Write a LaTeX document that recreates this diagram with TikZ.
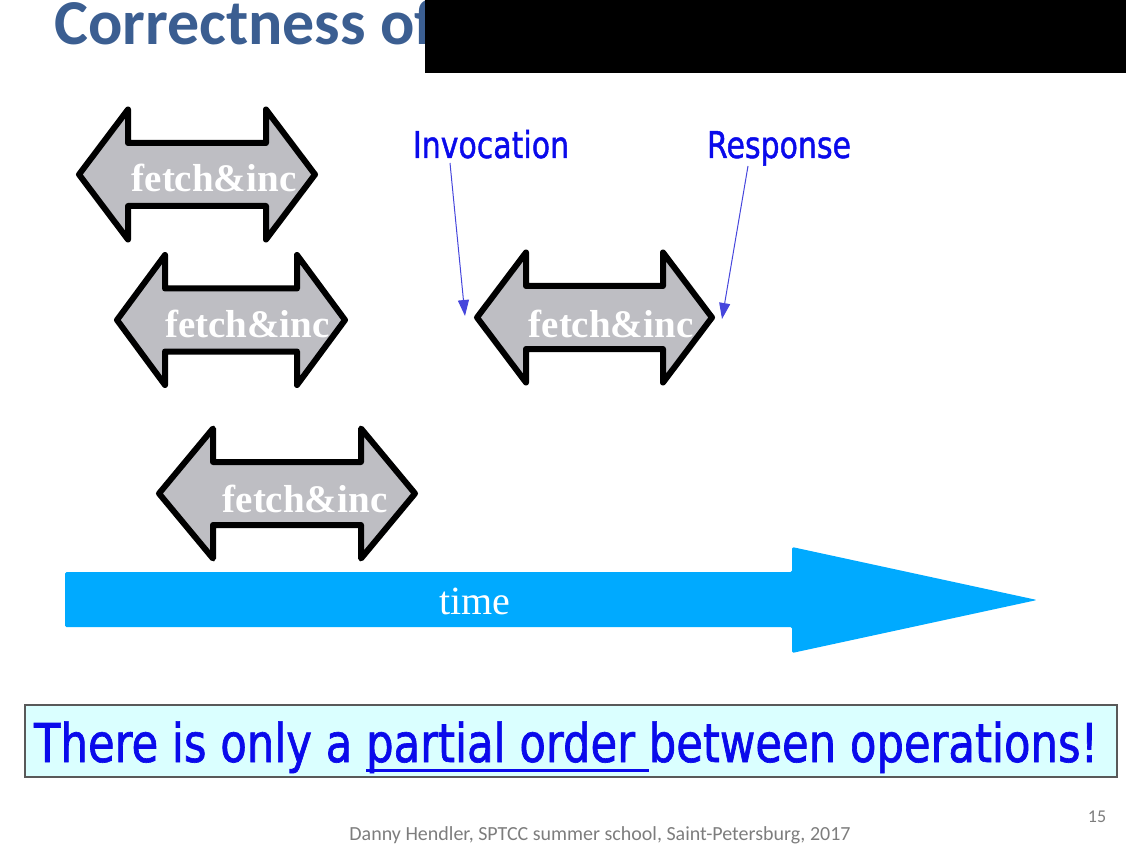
\documentclass[tikz,border=0pt]{standalone}
\usepackage{fontspec}
\setmainfont{Liberation Serif}
\newfontfamily\titlefont{Carlito}
\newfontfamily\handfont[FakeStretch=0.81,FakeBold=1.2]{DejaVu Sans}
\usetikzlibrary{arrows.meta,calc}

\definecolor{titleblue}{RGB}{59,94,145}
\definecolor{opgray}{RGB}{190,190,195}
\definecolor{timeblue}{RGB}{0,170,255}
\definecolor{noteblue}{RGB}{10,10,235}
\definecolor{pointerblue}{RGB}{70,70,220}
\definecolor{notefill}{RGB}{218,255,255}
\definecolor{footgray}{RGB}{125,125,125}

% double-headed operation arrow: left tip x, right tip x, centre y, head length
\newcommand\opArrow[4]{%
  \draw[opline] (#1,#3) -- (#1+#4,#3-65) -- (#1+#4,#3-31.5) -- (#2-#4,#3-31.5)
    -- (#2-#4,#3-65) -- (#2,#3) -- (#2-#4,#3+65) -- (#2-#4,#3+31.5)
    -- (#1+#4,#3+31.5) -- (#1+#4,#3+65) -- cycle;}

% thick underline below a piece of text
\newcommand\thickul[1]{\setbox0\hbox{#1}\rlap{\rule[-10pt]{\wd0}{3pt}}\box0}

\tikzset{
  opline/.style={draw=black, fill=opgray, line width=6pt, line join=round},
  oplabel/.style={anchor=base, inner sep=0pt, text=white,
    font=\fontsize{39}{39}\selectfont\bfseries},
  pointer/.style={draw=pointerblue, line width=1pt,
    -{Triangle[length=16pt,width=11pt]}},
  marker/.style={anchor=base, inner sep=0pt, text=noteblue,
    font=\handfont\fontsize{37}{37}\selectfont},
}

\begin{document}
\begin{tikzpicture}[x=1pt,y=-1pt]
\useasboundingbox (0,0) rectangle (1126,858);

% heading, partly covered by a black bar
\node[anchor=base west, inner sep=0pt, text=titleblue,
  font=\titlefont\bfseries\fontsize{64}{64}\selectfont] (title) at (54,45) {Correctness of};
\fill[black] (425,0) rectangle (1126,73);

% operations
\opArrow{79}{315}{174.5}{49}
\node[oplabel] (op1) at (214,192) {fetch\&inc};
\opArrow{117}{345}{320}{48}
\node[oplabel] (op2) at (247.5,337) {fetch\&inc};
\opArrow{477}{712}{317.5}{49}
\node[oplabel] (op3) at (611,337) {fetch\&inc};
\opArrow{159}{415}{493.5}{54}
\node[oplabel] (op4) at (305,512) {fetch\&inc};

% time axis
\fill[timeblue, rounded corners=1.5pt] (65,572) -- (792,572) -- (792,547) -- (1037,600)
  -- (792,653) -- (792,627) -- (65,627) -- cycle;
\node[anchor=base, inner sep=0pt, text=white, font=\fontsize{40}{40}\selectfont]
  (time) at (475,614) {time};

% invocation / response markers
\node[marker] (inv) at (491,158) {Invocation};
\node[marker] (resp) at (779,158) {Response};
\coordinate (invEnd) at (465,316);
\coordinate (respEnd) at (722,319);
\draw[pointer] ($(inv.base)+(-41,5)$) -- (invEnd);
\draw[pointer] ($(resp.base)+(-31,8)$) -- (respEnd);

% conclusion box
\node[draw=black!65, fill=notefill, line width=1.2pt, minimum width=1092pt,
  minimum height=72pt, inner sep=0pt] (note) at (571,741) {};
\node[anchor=base, inner sep=0pt, text=noteblue,
  font=\handfont\fontsize{53.5}{53.5}\selectfont] (notetext) at (566,762)
  {There is only a \thickul{partial order }between operations!};

% footer
\node[anchor=base, inner sep=0pt, text=footgray,
  font=\titlefont\fontsize{20}{20}\selectfont] (foot) at (600,840)
  {Danny Hendler, SPTCC summer school, Saint-Petersburg, 2017};
\node[anchor=base, inner sep=0pt, text=footgray,
  font=\titlefont\fontsize{18}{18}\selectfont] (page) at (1097,822) {15};
\end{tikzpicture}
\end{document}
